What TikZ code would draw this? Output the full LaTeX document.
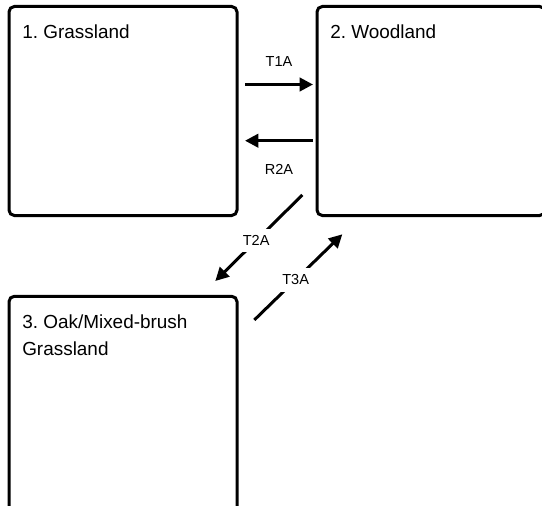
\documentclass[tikz,border=0pt]{standalone}
\usepackage{fontspec}
\setmainfont{Liberation Sans}
\usetikzlibrary{arrows.meta, positioning}
\frenchspacing

\tikzset{
    statebox/.style={draw, line width=2.25pt, rounded corners=4pt, minimum width=171pt,
        minimum height=156.75pt, outer sep=0pt, inner sep=0pt},
    title/.style={anchor=north west, inner sep=0pt, align=left, font=\fontsize{14.2}{20}\selectfont},
    trans/.style={line width=2.25pt, -{Triangle[length=10pt,width=10pt]}},
    lbl/.style={inner sep=0pt, font=\fontsize{10.9}{12}\selectfont},
    cut/.style={lbl, fill=white, inner sep=5pt},
}

\begin{document}
\begin{tikzpicture}[x=0.75pt, y=-0.75pt]
    \clip (0,0) rectangle (542,506);

    % states
    \node[statebox] (grass) at (123,111) {};
    \node[statebox, right=60pt of grass] (wood) {};
    \node[statebox, below=60.6pt of grass, minimum height=170pt] (oak) {};

    \node[title] (grass-t) at ([shift={(13,18.5)}]grass.north west) {1. Grassland};
    \node[title] (wood-t) at ([shift={(13,18.5)}]wood.north west) {2. Woodland};
    \node[title] (oak-t) at ([shift={(13,18.5)}]oak.north west) {3. Oak/Mixed-brush\\Grassland};

    % transitions
    \coordinate (t1a-s) at (245,84.5);
    \coordinate (t1a-e) at (313,84.5);
    \coordinate (r2a-s) at (313,140.7);
    \coordinate (r2a-e) at (245,140.7);
    \coordinate (t2a-s) at (302.3,195);
    \coordinate (t2a-e) at (215.3,281);
    \coordinate (t3a-s) at (254.3,320);
    \coordinate (t3a-e) at (342.3,234.3);

    \draw[trans] (t1a-s) -- node[lbl, above=12.6pt] (t1a) {T1A} (t1a-e);
    \draw[trans] (r2a-s) -- node[lbl, below=16.8pt] (r2a) {R2A} (r2a-e);
    \draw[trans] (t2a-s) -- node[cut, pos=0.53] (t2a) {T2A} (t2a-e);
    \draw[trans] (t3a-s) -- node[cut, pos=0.47] (t3a) {T3A} (t3a-e);
\end{tikzpicture}
\end{document}
